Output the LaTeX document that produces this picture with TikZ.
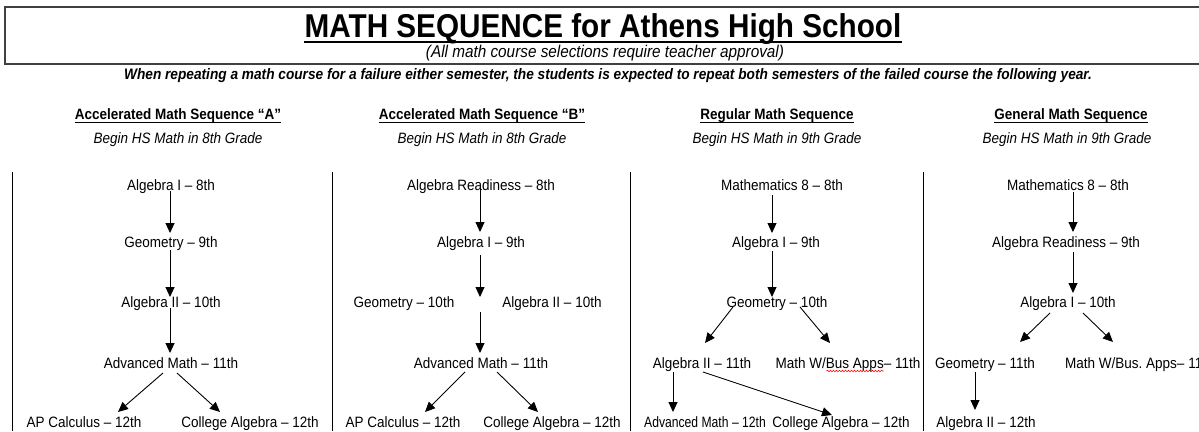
\documentclass[tikz,border=0pt]{standalone}
\usepackage{fontspec}
\setmainfont{Liberation Sans}[FakeStretch=0.9]
\usetikzlibrary{arrows.meta, decorations.pathmorphing}

% underline below a named text node
\newcommand{\underrule}[3]{\draw[line width=#3] ([yshift=-#2]#1.base west) -- ([yshift=-#2]#1.base east);}

\begin{document}
\begin{tikzpicture}[x=1pt, y=-1pt,
    course/.style={inner sep=0pt, anchor=base, font=\fontsize{15}{18}\selectfont},
    seqhead/.style={inner sep=0pt, anchor=base, font=\fontsize{15}{18}\selectfont\bfseries},
    seqsub/.style={inner sep=0pt, anchor=base, font=\fontsize{15}{18}\selectfont\itshape},
    flow/.style={-{Triangle[length=10pt, width=9pt]}, line width=0.9pt},
    divider/.style={line width=0.9pt},
    spellmark/.style={red, line width=0.6pt, decorate, decoration={snake, amplitude=0.8pt, segment length=3pt}}
]
\fill[white] (0,0) rectangle (1199,431);
\useasboundingbox (0,0) rectangle (1199,431);

% header
\draw[line width=1.3pt, black!75] (1199,7) -- (5,7) -- (5,64) -- (1199,64);
\node[inner sep=0pt, anchor=base, font=\fontsize{33}{36}\selectfont\bfseries] (title) at (603,37)
  {MATH SEQUENCE for Athens High School};
\underrule{title}{5pt}{2pt}
\node[inner sep=0pt, anchor=base, font=\fontsize{17}{19}\selectfont\itshape] (approval) at (605,57)
  {(All math course selections require teacher approval)};
\node[inner sep=0pt, anchor=base, font=\fontsize{15.2}{17}\selectfont\bfseries\itshape] (repeat) at (608,79)
  {When repeating a math course for a failure either semester, the students is expected to repeat both semesters of the failed course the following year.};

% sequence headings
\node[seqhead] (headA) at (178,119) {Accelerated Math Sequence “A”};
\node[seqhead] (headB) at (482,119) {Accelerated Math Sequence “B”};
\node[seqhead] (headC) at (777,119) {Regular Math Sequence};
\node[seqhead] (headD) at (1071,119) {General Math Sequence};
\foreach \h in {headA,headB,headC,headD}
  {\underrule{\h}{3pt}{1pt}}
\node[seqsub] (subA) at (178,143) {Begin HS Math in 8th Grade};
\node[seqsub] (subB) at (482,143) {Begin HS Math in 8th Grade};
\node[seqsub] (subC) at (777,143) {Begin HS Math in 9th Grade};
\node[seqsub] (subD) at (1067,143) {Begin HS Math in 9th Grade};

% column dividers
\foreach \x in {12,332,630,923}
  \draw[divider] (\x,172) -- (\x,431);

% sequence A
\node[course] (a1) at (171,190) {Algebra I – 8th};
\node[course] (a2) at (171,247) {Geometry – 9th};
\node[course] (a3) at (171,307) {Algebra II – 10th};
\node[course] (a4) at (171,368) {Advanced Math – 11th};
\node[course] (a5) at (84,427) {AP Calculus – 12th};
\node[course] (a6) at (250,427) {College Algebra – 12th};

\draw[flow] ([xshift=-1pt,yshift=-1pt]a1.base) -- ([xshift=-1pt,yshift=14pt]a2.base);
\draw[flow] ([xshift=-1pt,yshift=-3pt]a2.base) -- ([xshift=-1pt,yshift=10pt]a3.base);
\draw[flow] ([xshift=-1pt,yshift=-1pt]a3.base) -- ([xshift=-1pt,yshift=15pt]a4.base);
\draw[flow] ([xshift=-8pt,yshift=-5pt]a4.base) -- ([xshift=34pt,yshift=15pt]a5.base);
\draw[flow] ([xshift=6pt,yshift=-5pt]a4.base) -- ([xshift=-30pt,yshift=15pt]a6.base);

% sequence B
\node[course] (b1) at (481,190) {Algebra Readiness – 8th};
\node[course] (b2) at (481,247) {Algebra I – 9th};
\node[course] (b3) at (404,307) {Geometry – 10th};
\node[course] (b4) at (552,307) {Algebra II – 10th};
\node[course] (b5) at (481,368) {Advanced Math – 11th};
\node[course] (b6) at (403,427) {AP Calculus – 12th};
\node[course] (b7) at (552,427) {College Algebra – 12th};
\coordinate (bgap) at (480,304);

\draw[flow] ([xshift=-1pt,yshift=2pt]b1.base) -- ([xshift=-1pt,yshift=15pt]b2.base);
\draw[flow] ([xshift=-1pt,yshift=-8pt]b2.base) -- ([yshift=7pt]bgap);
\draw[flow] ([yshift=-8pt]bgap) -- ([xshift=-1pt,yshift=15pt]b5.base);
\draw[flow] ([xshift=-16pt,yshift=-4pt]b5.base) -- ([xshift=22pt,yshift=15pt]b6.base);
\draw[flow] ([xshift=16pt,yshift=-4pt]b5.base) -- ([xshift=-14pt,yshift=15pt]b7.base);

% sequence C
\node[course] (c1) at (782,190) {Mathematics 8 – 8th};
\node[course] (c2) at (776,247) {Algebra I – 9th};
\node[course] (c3) at (777,307) {Geometry – 10th};
\node[course] (c4) at (702,368) {Algebra II – 11th};
\node[course] (c5) at (848,368) {Math W/Bus Apps– 11th};
\node[course] (c6) at (705,427) {\scalebox{0.9}[1]{Advanced Math – 12th}};
\node[course] (c7) at (841,427) {College Algebra – 12th};
\draw[spellmark] ([xshift=51pt,yshift=-3pt]c5.base west) -- ([xshift=108pt,yshift=-3pt]c5.base west);

\draw[flow] ([xshift=-10pt,yshift=-5pt]c1.base) -- ([xshift=-4pt,yshift=14pt]c2.base);
\draw[flow] ([xshift=-4pt,yshift=-4pt]c2.base) -- ([xshift=-5pt,yshift=10pt]c3.base);
\draw[flow] ([xshift=-44pt]c3.base) -- ([xshift=3pt,yshift=25pt]c4.base);
\draw[flow] ([xshift=23pt]c3.base) -- ([xshift=-18pt,yshift=25pt]c5.base);
\draw[flow] ([xshift=-29pt,yshift=-4pt]c4.base) -- ([xshift=-32pt,yshift=15pt]c6.base);
\draw[flow] ([xshift=1pt,yshift=-4pt]c4.base) -- ([xshift=-9pt,yshift=12pt]c7.base);

% sequence D
\node[course] (d1) at (1068,190) {Mathematics 8 – 8th};
\node[course] (d2) at (1066,247) {Algebra Readiness – 9th};
\node[course] (d3) at (1068,307) {Algebra I – 10th};
\node[course] (d4) at (985,368) {Geometry – 11th};
\node[course, anchor=base west] (d5) at (1065,368) {Math W/Bus.\ Apps– 11th};
\node[course] (d6) at (986,427) {Algebra II – 12th};

\draw[flow] ([xshift=5pt,yshift=-2pt]d1.base) -- ([xshift=7pt,yshift=15pt]d2.base);
\draw[flow] ([xshift=7pt,yshift=-5pt]d2.base) -- ([xshift=5pt,yshift=14pt]d3.base);
\draw[flow] ([xshift=-18pt,yshift=-6pt]d3.base) -- ([xshift=35pt,yshift=26pt]d4.base);
\draw[flow] ([xshift=15pt,yshift=-6pt]d3.base) -- ([xshift=48pt,yshift=26pt]d5.base west);
\draw[flow] ([xshift=-10pt,yshift=-4pt]d4.base) -- ([xshift=-11pt,yshift=17pt]d6.base);
\end{tikzpicture}
\end{document}
